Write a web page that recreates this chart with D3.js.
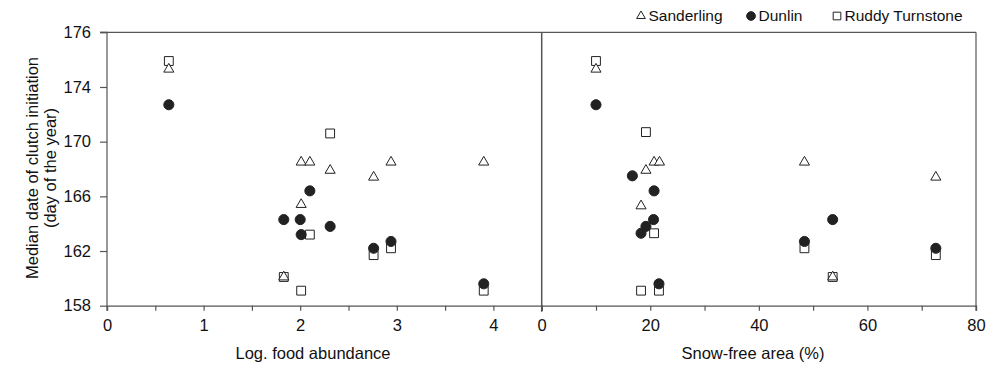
<!DOCTYPE html>
<html>
<head>
<meta charset="utf-8">
<script src="https://cdn.jsdelivr.net/npm/d3@7"></script>
<style>
   body { margin: 0; background: #fff; }
   svg text { font-family: 'Liberation Sans', Arial, sans-serif; fill: #111; }
</style>
</head>
<body>
<div id="container"></div>
<script>
// left panel: log food abundance
const sanderlingFoodX = [0.64, 2.01, 2.1, 2.31, 2.01, 2.76, 2.94, 3.9, 1.83];
const sanderlingFoodY = [175.3, 168.5, 168.5, 167.9, 165.4, 167.4, 168.5, 168.5, 160.1];
const dunlinFoodX = [0.64, 2.1, 1.83, 2.0, 2.01, 2.31, 2.76, 2.94, 3.9];
const dunlinFoodY = [172.7, 166.4, 164.3, 164.3, 163.2, 163.8, 162.2, 162.7, 159.6];
const turnstoneFoodX = [0.64, 2.31, 2.1, 2.94, 2.76, 1.83, 2.01, 3.9];
const turnstoneFoodY = [175.9, 170.6, 163.2, 162.2, 161.7, 160.1, 159.1, 159.1];

// right panel: snow-free area
const sanderlingSnowX = [10, 20.7, 21.7, 19.2, 18.3, 48.4, 72.6, 53.6];
const sanderlingSnowY = [175.3, 168.5, 168.5, 167.9, 165.3, 168.5, 167.4, 160.1];
const dunlinSnowX = [10, 16.7, 20.7, 20.6, 19.2, 18.3, 21.6, 48.4, 53.6, 72.6];
const dunlinSnowY = [172.7, 167.5, 166.4, 164.3, 163.8, 163.3, 159.6, 162.7, 164.3, 162.2];
const turnstoneSnowX = [10, 19.2, 20.7, 18.3, 21.6, 48.4, 53.6, 72.6];
const turnstoneSnowY = [175.9, 170.7, 163.3, 159.1, 159.1, 162.2, 160.1, 161.7];

const yTicks = [158, 162, 166, 170, 174, 178];
const yTickLabels = ['158', '162', '166', '170', '174', '176'];
const foodTicks = [0, 1, 2, 3, 4];
const snowTicks = [0, 20, 40, 60, 80];
const species = ['Sanderling', 'Dunlin', 'Ruddy Turnstone'];

const w = 997;
const h = 366;
const ink = '#222';
const axisColor = '#555';

const svg = d3.select('#container')
   .append('svg')
   .attr('width', w)
   .attr('height', h);

const y = d3.scaleLinear().domain([158, 178]).range([305.7, 32.3]);
const xFood = d3.scaleLinear().domain([0, 4.5]).range([107, 541.7]);
const xSnow = d3.scaleLinear().domain([0, 80]).range([541.7, 976]);

const shapes = {
   'Sanderling': { type: d3.symbolTriangle, size: 44, fill: '#fff' },
   'Dunlin': { type: d3.symbolCircle, size: 80, fill: ink },
   'Ruddy Turnstone': { type: d3.symbolSquare, size: 78, fill: '#fff' }
};

// frame lines
svg.append('line')
   .attr('x1', 100).attr('x2', xSnow(80))
   .attr('y1', y(178)).attr('y2', y(178))
   .attr('stroke', axisColor).attr('stroke-width', 1.2);
svg.append('line')
   .attr('x1', xSnow(80)).attr('x2', xSnow(80))
   .attr('y1', y(178)).attr('y2', y(158) + 5)
   .attr('stroke', axisColor).attr('stroke-width', 1.2);
svg.append('line')
   .attr('x1', xSnow(0)).attr('x2', xSnow(0))
   .attr('y1', y(178)).attr('y2', y(158) + 6)
   .attr('stroke', axisColor).attr('stroke-width', 1.5);

// y axis
const yAxis = svg.append('g')
   .attr('transform', 'translate(' + xFood(0) + ',0)')
   .call(d3.axisLeft(y)
      .tickValues(yTicks)
      .tickFormat((d, i) => yTickLabels[i])
      .tickSize(7)
      .tickPadding(9));

// x axes: minor ticks every half step, labels every step
const foodAxis = svg.append('g')
   .attr('transform', 'translate(0,' + y(158) + ')')
   .call(d3.axisBottom(xFood)
      .tickValues(d3.range(0, 4.51, 0.5))
      .tickFormat(d => (foodTicks.includes(d) ? d : ''))
      .tickSize(5)
      .tickPadding(9));
const snowAxis = svg.append('g')
   .attr('transform', 'translate(0,' + y(158) + ')')
   .call(d3.axisBottom(xSnow)
      .tickValues(d3.range(0, 81, 10))
      .tickFormat(d => (snowTicks.includes(d) ? d : ''))
      .tickSize(5)
      .tickPadding(9));

[yAxis, foodAxis, snowAxis].forEach(g => {
   g.select('.domain').attr('stroke', axisColor).attr('stroke-width', 1.2);
   g.selectAll('.tick line').attr('stroke', axisColor).attr('stroke-width', 1.2);
   g.selectAll('.tick text')
      .attr('font-size', 16.5)
      .attr('font-family', "'Liberation Sans', Arial, sans-serif")
      .attr('fill', '#111');
});
yAxis.select('.domain').attr('d', 'M-7,' + y(178) + 'H0V' + (y(158) + 5));
snowAxis.select('.tick:first-child line').remove();

// axis titles
svg.append('text')
   .attr('x', 313)
   .attr('y', 359)
   .attr('text-anchor', 'middle')
   .attr('font-size', 16.5)
   .text('Log. food abundance');
svg.append('text')
   .attr('x', 753)
   .attr('y', 359)
   .attr('text-anchor', 'middle')
   .attr('font-size', 16.5)
   .text('Snow-free area (%)');

const yTitle = svg.append('text')
   .attr('transform', 'translate(0,168) rotate(-90)')
   .attr('text-anchor', 'middle')
   .attr('font-size', 16.5);
yTitle.append('tspan').attr('x', 0).attr('y', 37.5).text('Median date of clutch initiation');
yTitle.append('tspan').attr('x', 0).attr('y', 56).text('(day of the year)');

// points: squares first, then triangles, then circles on top
function drawSeries(xs, ys, xScale, name) {
   const s = shapes[name];
   svg.append('g')
      .selectAll('path')
      .data(xs.map((d, i) => [d, ys[i]]))
      .enter()
      .append('path')
      .attr('d', d3.symbol().type(s.type).size(s.size))
      .attr('transform', d => 'translate(' + xScale(d[0]) + ',' + y(d[1]) + ')')
      .attr('fill', s.fill)
      .attr('stroke', ink)
      .attr('stroke-width', 1);
}
drawSeries(turnstoneFoodX, turnstoneFoodY, xFood, 'Ruddy Turnstone');
drawSeries(turnstoneSnowX, turnstoneSnowY, xSnow, 'Ruddy Turnstone');
drawSeries(sanderlingFoodX, sanderlingFoodY, xFood, 'Sanderling');
drawSeries(sanderlingSnowX, sanderlingSnowY, xSnow, 'Sanderling');
drawSeries(dunlinFoodX, dunlinFoodY, xFood, 'Dunlin');
drawSeries(dunlinSnowX, dunlinSnowY, xSnow, 'Dunlin');

// legend
const legendX = [641, 751, 837];
const legend = svg.append('g')
   .selectAll('g')
   .data(species)
   .enter()
   .append('g')
   .attr('transform', (d, i) => 'translate(' + legendX[i] + ',16)');
legend.append('path')
   .attr('d', d => d3.symbol().type(shapes[d].type).size(shapes[d].size * 0.75)())
   .attr('fill', d => shapes[d].fill)
   .attr('stroke', ink)
   .attr('stroke-width', 1);
legend.append('text')
   .attr('x', 7.5)
   .attr('dy', '0.35em')
   .attr('font-size', 15.5)
   .text(d => d);
</script>
</body>
</html>
